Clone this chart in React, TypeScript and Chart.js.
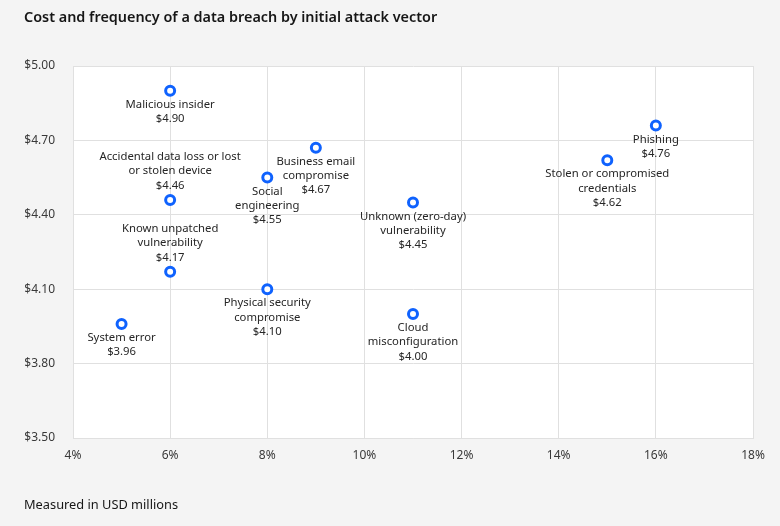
import React, { useEffect, useRef } from "react";
import { Chart, registerables } from "chart.js";

Chart.register(...registerables);

const vectorNames: string[][] = [
  ["Malicious insider"],
  ["Accidental data loss or lost", "or stolen device"],
  ["Known unpatched", "vulnerability"],
  ["System error"],
  ["Physical security", "compromise"],
  ["Social", "engineering"],
  ["Business email", "compromise"],
  ["Unknown (zero-day)", "vulnerability"],
  ["Cloud", "misconfiguration"],
  ["Stolen or compromised", "credentials"],
  ["Phishing"],
];
const frequencyPct: number[] = [6, 6, 6, 5, 8, 8, 9, 11, 11, 15, 16];
const costUSDm: number[] = [4.9, 4.46, 4.17, 3.96, 4.1, 4.55, 4.67, 4.45, 4.0, 4.62, 4.76];

// label placement (layout, not data)
const labelAbove: boolean[] = [false, true, true, false, false, false, false, false, false, false, false];

const TITLE = "Cost and frequency of a data breach by initial attack vector";
const FOOTNOTE = "Measured in USD millions";
const FONT = "'Noto Sans', 'Open Sans', sans-serif";

export default function App() {
  const ref = useRef<HTMLCanvasElement | null>(null);
  useEffect(() => {
    document.body.style.margin = "0";
    const canvas = ref.current!;
    const bgPlugin = {
      id: "bg",
      beforeDraw(chart: any) {
        const { ctx, chartArea: a } = chart;
        ctx.save();
        ctx.fillStyle = "#f4f4f4";
        ctx.fillRect(0, 0, chart.width, chart.height);
        ctx.fillStyle = "#ffffff";
        ctx.fillRect(a.left, a.top, a.right - a.left, a.bottom - a.top);
        ctx.restore();
      },
      afterDraw(chart: any) {
        const { ctx } = chart;
        ctx.save();
        ctx.fillStyle = "#161616";
        ctx.textBaseline = "middle";
        ctx.textAlign = "left";
        ctx.font = `600 14.4px ${FONT}`;
        ctx.fillText(TITLE, 24, 18);
        ctx.font = `12.8px ${FONT}`;
        ctx.fillText(FOOTNOTE, 24, 505);
        ctx.restore();
      },
    };
    const labelPlugin = {
      id: "pointLabels",
      afterDatasetsDraw(chart: any) {
        const { ctx } = chart;
        const meta = chart.getDatasetMeta(0);
        ctx.save();
        ctx.fillStyle = "#262626";
        ctx.font = `11.3px ${FONT}`;
        ctx.textAlign = "center";
        ctx.textBaseline = "middle";
        const lh = 14.2;
        meta.data.forEach((pt: any, i: number) => {
          const lines = [...vectorNames[i], "$" + costUSDm[i].toFixed(2)];
          if (labelAbove[i]) {
            const start = pt.y - 14.5 - (lines.length - 1) * lh;
            lines.forEach((l, k) => ctx.fillText(l, pt.x, start + k * lh));
          } else {
            lines.forEach((l, k) => ctx.fillText(l, pt.x, pt.y + 14 + k * lh));
          }
        });
        ctx.restore();
      },
    };
    const chart = new Chart(canvas, {
      type: "scatter",
      data: {
        datasets: [
          {
            data: frequencyPct.map((x, i) => ({ x, y: costUSDm[i] })),
            pointRadius: 4.5,
            pointHoverRadius: 4.5,
            pointBorderWidth: 3,
            pointBackgroundColor: "#ffffff",
            pointBorderColor: "#0f62fe",
          },
        ],
      },
      options: {
        animation: false,
        responsive: false,
        events: [],
        layout: { padding: { left: 0, right: 27, top: 66, bottom: 0 } },
        plugins: { legend: { display: false }, tooltip: { enabled: false } },
        scales: {
          x: {
            type: "linear",
            min: 4,
            max: 18,
            afterFit: (s: any) => {
              s.height = 88;
            },
            ticks: {
              stepSize: 2,
              padding: 10,
              color: "#393939",
              font: { family: FONT, size: 12 },
              callback: (v: any) => v + "%",
            },
            grid: { color: "#e0e0e0", drawTicks: false },
            border: { color: "#e0e0e0" },
          },
          y: {
            type: "linear",
            min: 3.5,
            max: 5.0,
            afterFit: (s: any) => {
              s.width = 73;
            },
            ticks: {
              stepSize: 0.3,
              padding: 18,
              color: "#393939",
              font: { family: FONT, size: 12 },
              callback: (v: any) => "$" + Number(v).toFixed(2),
            },
            grid: { color: "#e0e0e0", drawTicks: false },
            border: { color: "#e0e0e0" },
          },
        },
      },
      plugins: [bgPlugin, labelPlugin],
    } as any);
    return () => chart.destroy();
  }, []);
  return <canvas ref={ref} width={780} height={526} style={{ display: "block" }} />;
}
